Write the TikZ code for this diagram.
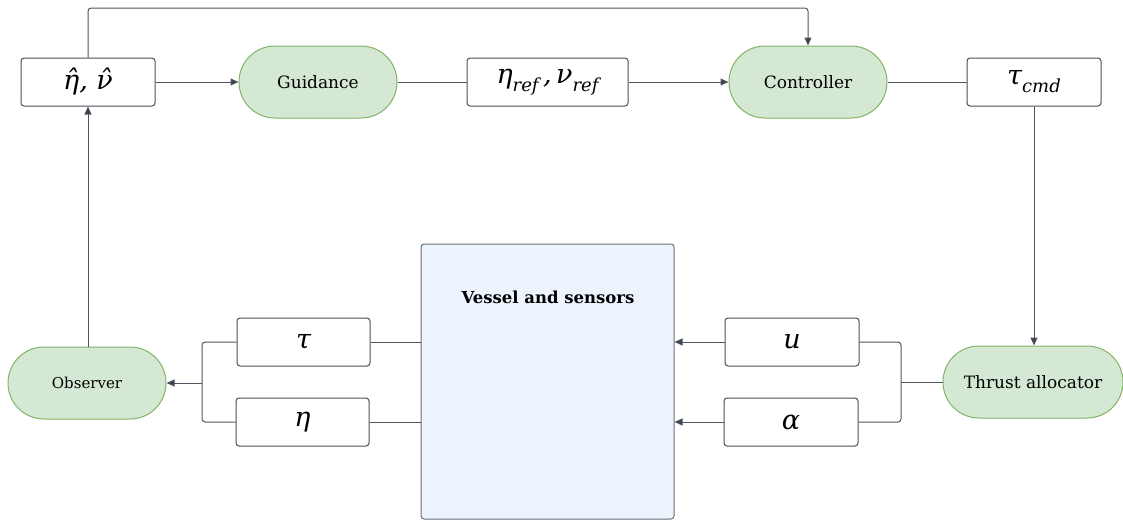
\documentclass[tikz,border=0pt]{standalone}
\usepackage{fontspec}
\setmainfont{DejaVu Serif}
\usetikzlibrary{arrows.meta}
\definecolor{lineC}{HTML}{4E5561}
\definecolor{tipC}{HTML}{3B414B}
\definecolor{boxB}{HTML}{4A4F57}
\definecolor{greenF}{HTML}{D5E8D4}
\definecolor{greenB}{HTML}{82B366}
\definecolor{blueF}{HTML}{EDF4FE}
\definecolor{blueB}{HTML}{6A6E75}
% symbols in the value boxes: italic serif letters
\newcommand{\sym}[1]{{\itshape #1}}
\newcommand{\sub}[1]{\raisebox{-0.3em}{\fontsize{18}{21}\selectfont\itshape #1}}
\tikzset{
  valbox/.style={draw=boxB, line width=1pt, fill=white, rounded corners=3pt,
    minimum width=134pt, minimum height=48pt, inner sep=0pt,
    font=\fontsize{27}{31}\selectfont},
  stage/.style={draw=greenB, line width=1pt, fill=greenF, rounded corners=35.9pt,
    minimum width=158pt, minimum height=72pt, inner sep=0pt,
    font=\fontsize{17}{20}\selectfont},
  plant/.style={draw=blueB, line width=1pt, fill=blueF, rounded corners=3pt,
    minimum width=253pt, minimum height=275pt, inner sep=0pt},
  wire/.style={draw=lineC, line width=1pt, rounded corners=3pt},
  feed/.style={wire, -{Triangle[length=8pt,width=7pt,fill=tipC]}},
}
\begin{document}
\begin{tikzpicture}[x=1pt,y=-1pt]
\useasboundingbox (0,0) rectangle (1123,520);

% upper chain
\node[valbox] (est) at (88,82) {\sym{η̂, ν̂}};
\node[stage] (guid) at (318,82) {Guidance};
\node[valbox, minimum width=161pt] (ref) at (547.5,82) {\sym{η}\sub{ref}\,\sym{,}\,\sym{ν}\sub{ref}};
\node[stage] (ctrl) at (808,82) {Controller};
\node[valbox] (tcmd) at (1034,82) {\sym{τ}\sub{cmd}};

% lower blocks
\node[plant] (ves) at (547.5,381.5) {};
\node[font=\bfseries\fontsize{16.5}{19}\selectfont] (vtitle) at (548,297) {Vessel and sensors};
\node[stage, font=\fontsize{15}{18}\selectfont] (obs) at (87,383) {Observer};
\node[stage, minimum width=180pt] (thr) at (1033,382) {Thrust allocator};
\node[valbox, minimum width=133pt] (tau) at (303.5,342) {\sym{τ}};
\node[valbox, minimum width=133pt] (eta) at (302.5,422) {\sym{η}};
\node[valbox] (u) at (792,342) {\sym{u}};
\node[valbox] (alp) at (791,422) {\sym{α}};

\coordinate (top) at (0,8);
\coordinate (jl) at (202,383);
\coordinate (jr) at (901,382);

% signal flow, upper row
\draw[feed] (est) -- (guid);
\draw[wire] (guid) -- (ref);
\draw[feed] (ref) -- (ctrl);
\draw[wire] (ctrl) -- (tcmd);
\draw[feed] (est.north) |- (top -| ctrl.north) -- (ctrl.north);
\draw[feed] (tcmd.south) -- (tcmd.south |- thr.north);
\draw[feed] (est.south |- obs.north) -- (est.south);

% measurements back to the observer
\draw[wire] (ves.west |- tau.east) -- (tau.east);
\draw[wire] (ves.west |- eta.east) -- (eta.east);
\draw[wire] (tau.west) -| (jl) |- (eta.west);
\draw[feed] (jl) -- (obs.east);

% actuator commands into the vessel
\draw[wire] (jr) -- (thr.west);
\draw[wire] (u.east) -| (jr) |- (alp.east);
\draw[feed] (u.west) -- (u.west -| ves.east);
\draw[feed] (alp.west) -- (alp.west -| ves.east);
\end{tikzpicture}
\end{document}
